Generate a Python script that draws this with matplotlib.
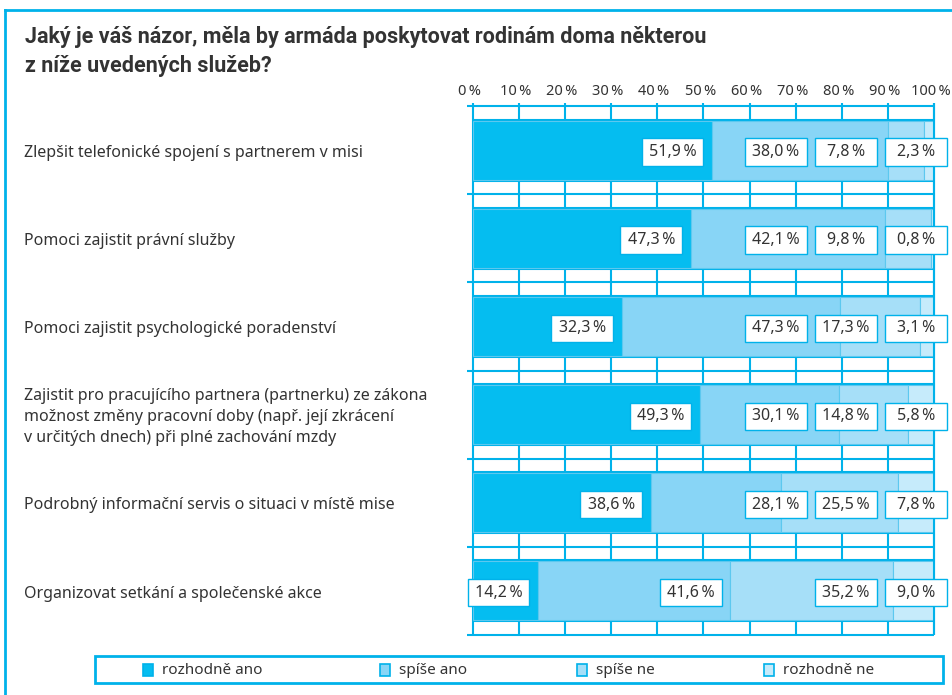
import matplotlib
matplotlib.use('Agg')
import matplotlib.pyplot as plt
from matplotlib.patches import Rectangle
from matplotlib.lines import Line2D

plt.rcParams['font.family'] = ['Noto Sans', 'DejaVu Sans']

# data
categories = [
    'Zlepšit telefonické spojení s partnerem v misi',
    'Pomoci zajistit právní služby',
    'Pomoci zajistit psychologické poradenství',
    'Zajistit pro pracujícího partnera (partnerku) ze zákona\n'
    'možnost změny pracovní doby (např. její zkrácení\n'
    'v určitých dnech) při plné zachování mzdy',
    'Podrobný informační servis o situaci v místě mise',
    'Organizovat setkání a společenské akce',
]
rozhodne_ano = [51.9, 47.3, 32.3, 49.3, 38.6, 14.2]
spise_ano = [38.0, 42.1, 47.3, 30.1, 28.1, 41.6]
spise_ne = [7.8, 9.8, 17.3, 14.8, 25.5, 35.2]
rozhodne_ne = [2.3, 0.8, 3.1, 5.8, 7.8, 9.0]
series_names = ['rozhodně ano', 'spíše ano', 'spíše ne', 'rozhodně ne']
ticks = list(range(0, 101, 10))

title = ('Jaký je váš názor, měla by armáda poskytovat rodinám doma některou\n'
         'z níže uvedených služeb?')

colors = ['#05bdf0', '#88d5f6', '#a6dff8', '#c6ebfb']
blue = '#00b2ea'
txt = '#333333'

W, H = 953, 695
fig = plt.figure(figsize=(W / 100, H / 100), dpi=100)

def fx(px):
    return px / W

def fy(py):
    return 1 - py / H

# outer frame (right and bottom run off the picture)
fig.add_artist(Line2D([fx(5), 1.0], [fy(10), fy(10)], color=blue, lw=2))
fig.add_artist(Line2D([fx(5), fx(5)], [fy(10), 0.0], color=blue, lw=2))

fig.text(fx(25), fy(26), title, fontsize=15.5, fontweight='bold', color=txt,
         va='top', ha='left', linespacing=1.4,
         family=['Roboto', 'DejaVu Sans'])

ax = fig.add_axes([fx(472.7), fy(635), fx(934.3) - fx(472.7), fy(106) - fy(635)])
n = len(categories)
ax.set_xlim(0, 100)
ax.set_ylim(n - 0.5, -0.5)
ax.axis('off')

bar_h = 0.67
# grid: vertical lines
for t in ticks:
    ax.plot([t, t], [n - 0.5, -0.535], color=blue, lw=1.5, zorder=1,
            clip_on=False, solid_capstyle='butt')
    ax.text(t - 0.7, -0.66, f'{t}\u2009%', ha='center', va='center',
            fontsize=10.5, color=txt)
# grid: horizontal lines
for k in range(n + 1):
    ax.plot([-1.2, 100], [k - 0.5, k - 0.5], color=blue, lw=1.5, zorder=1,
            clip_on=False, solid_capstyle='butt')
for k in range(n):
    for s in (-1, 1):
        yy = k + s * (bar_h / 2 + 0.01)
        ax.plot([0, 100], [yy, yy], color=blue, lw=1.5, zorder=1,
                solid_capstyle='butt')

series = [rozhodne_ano, spise_ano, spise_ne, rozhodne_ne]
left = [0.0] * n
for vals, c in zip(series, colors):
    ax.barh(range(n), vals, left=left, height=bar_h, color=c,
            edgecolor='#5cc8ef', linewidth=0.8, zorder=2)
    left = [l + v for l, v in zip(left, vals)]

# 100 % line sits on top of the bars
ax.plot([100, 100], [n - 0.5, -0.535], color=blue, lw=1.5, zorder=3,
        clip_on=False, solid_capstyle='butt')

# value boxes
box_w, box_h = 13.4, 0.31
columns = [None, 72.4, 87.6, 102.8]
for i in range(n):
    start = 0.0
    for j, vals in enumerate(series):
        end = start + vals[i]
        right = columns[j]
        if right is None or (j == 1 and i == n - 1):
            right = end - 1.9
        ax.add_patch(Rectangle((right - box_w, i - box_h / 2 + 0.02), box_w, box_h,
                               facecolor='white', edgecolor=blue, lw=1.0,
                               zorder=4, clip_on=False))
        lab = f'{vals[i]:.1f}'.replace('.', ',') + '\u2009%'
        ax.text(right - box_w / 2, i + 0.02, lab, ha='center', va='center',
                fontsize=11.5, color=txt, zorder=5)
        start = end

# category labels
for i, c in enumerate(categories):
    ax.text(-97.2, i + 0.03, c, ha='left', va='center', fontsize=11.5,
            color=txt, linespacing=1.4, clip_on=False)

# legend
fig.add_artist(Rectangle((fx(95), fy(683)), fx(943) - fx(95), fy(656) - fy(683),
                         transform=fig.transFigure, facecolor='white',
                         edgecolor=blue, lw=2))
leg_x = [143, 380, 577, 764]
for name, c, x in zip(series_names, colors, leg_x):
    fig.add_artist(Rectangle((fx(x), fy(676)), fx(10), fy(664) - fy(676),
                             transform=fig.transFigure, facecolor=c,
                             edgecolor=blue, lw=1.2))
    fig.text(fx(x + 19), fy(670), name, fontsize=11, color=txt,
             ha='left', va='center')

fig.savefig('out.png', dpi=100)
